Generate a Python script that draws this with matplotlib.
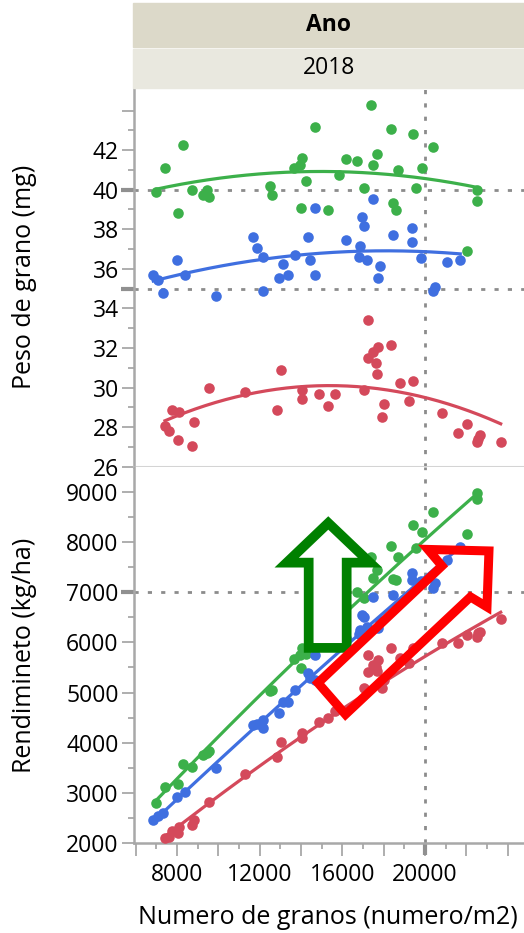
import matplotlib
matplotlib.use('Agg')
import matplotlib.pyplot as plt
import numpy as np
from matplotlib.patches import Polygon, Rectangle

plt.rcParams['font.family'] = ['Open Sans', 'DejaVu Sans']

# grain number (per m2), grain weight (mg) and yield (kg/ha), one entry per plot
green_x = [6984, 7419, 8065, 8274, 8710, 9243, 9437, 9565, 12500, 12611, 13676, 13950,
           14014, 14033, 14241, 14677, 15306, 15854, 16191, 16724, 17062, 17371, 17497,
           17690, 18368, 18465, 18578, 18675, 19415, 19546, 19868, 20400, 22046, 22500, 22500]
green_w = [39.88, 41.12, 38.84, 42.25, 39.97, 39.75, 39.97, 39.63, 40.19, 39.75, 41.12, 41.24,
           39.09, 41.58, 40.44, 43.18, 38.99, 40.75, 41.54, 41.46, 40.09, 44.30, 41.24,
           41.80, 43.05, 39.33, 38.95, 41.02, 42.83, 40.09, 41.12, 42.14, 36.92, 39.97, 39.41]
green_y = [2811, 3130, 3183, 3575, 3527, 3760, 3790, 3846, 5030, 5054, 5671, 5750,
           5486, 5884, 5760, 6330, 5970, 6460, 6730, 6998, 6878, 7707, 7277,
           7442, 7919, 7263, 7240, 7695, 8337, 7874, 8204, 8590, 8152, 8980, 8849]

blue_x = [6854, 7095, 7308, 7984, 8387, 9887, 11662, 11856, 12175, 12175, 12935, 13143,
          13385, 13709, 14353, 14450, 14677, 14677, 16191, 16805, 16854, 16935, 17062,
          17178, 17497, 17710, 17807, 18465, 19355, 19355, 19790, 20400, 20482, 21048, 21706]
blue_w = [35.71, 35.44, 34.76, 36.47, 35.67, 34.64, 37.60, 37.03, 36.58, 34.86, 35.54, 36.25,
          35.69, 36.70, 37.60, 36.45, 35.69, 39.07, 37.48, 36.62, 37.16, 38.62, 38.16,
          36.45, 39.51, 35.54, 36.13, 37.72, 38.06, 37.38, 36.55, 34.89, 35.06, 36.35, 36.45]
blue_y = [2467, 2553, 2612, 2931, 3030, 3496, 4357, 4377, 4457, 4291, 4602, 4821,
          4821, 5054, 5400, 5300, 5250, 5750, 6080, 6160, 6248, 6546, 6513,
          6313, 6911, 6282, 6430, 6944, 7375, 7243, 7230, 7078, 7177, 7640, 7906]

red_x = [7419, 7613, 7742, 8065, 8097, 8710, 8823, 9565, 11304, 12823, 13046, 14033,
         14033, 14885, 15306, 15644, 17062, 17255, 17255, 17468, 17613, 17690, 17710,
         17933, 18014, 18353, 18788, 19224, 19432, 20836, 21610, 22046, 22500, 22580, 22660, 23662]
red_w = [28.04, 27.79, 28.85, 27.37, 28.77, 27.04, 28.28, 29.99, 29.77, 28.85, 30.90, 29.87,
         29.40, 29.65, 29.09, 29.65, 29.87, 33.41, 31.48, 31.81, 31.26, 30.67, 32.07,
         28.51, 29.19, 32.15, 30.21, 29.31, 30.32, 28.72, 27.70, 28.16, 27.24, 27.41, 27.58, 27.24]
red_y = [2100, 2122, 2254, 2214, 2334, 2361, 2467, 2831, 3376, 3727, 4025, 4190,
         4093, 4423, 4490, 4640, 5088, 5750, 5418, 5551, 5500, 5430, 5651,
         5088, 5260, 5884, 5684, 5585, 5884, 5983, 5983, 6149, 6115, 6180, 6214, 6461]

# fitted curves (x, value)
green_fit_w = ([6984, 11048, 14275, 15886, 17497, 19916, 22500],
               [40.09, 40.57, 40.87, 40.95, 40.94, 40.60, 40.06])
blue_fit_w = ([6854, 8387, 11048, 13709, 16530, 18321, 21706],
              [35.45, 35.72, 36.24, 36.69, 36.95, 36.91, 36.73])
red_fit_w = ([7419, 9921, 13951, 15886, 17178, 19597, 23662],
             [28.33, 29.23, 30.04, 30.16, 30.07, 29.45, 28.21])
green_fit_y = ([6984, 14435, 22500], [2851, 5916, 8954])
blue_fit_y = ([6854, 15402, 21706], [2433, 5651, 7899])
red_fit_y = ([7419, 15402, 23662], [2130, 4510, 6600])

series = [
    (green_x, green_w, green_y, green_fit_w, green_fit_y, '#3cb04a'),
    (blue_x, blue_w, blue_y, blue_fit_w, blue_fit_y, '#3f6fe0'),
    (red_x, red_w, red_y, red_fit_w, red_fit_y, '#d4495b'),
]

# annotation arrows drawn on the yield panel (data coords)
green_arrow = [(15320, 8377), (13307, 7587), (14372, 7587), (14372, 5890),
               (16210, 5890), (16210, 7587), (17337, 7587)]
red_arrow = [(20143, 7850), (23095, 7820), (22998, 6706), (22200, 6905),
             (16152, 4566), (14822, 5193), (20821, 7521)]

W, H = 524, 933
fig = plt.figure(figsize=(W / 100, H / 100), dpi=100)
L = 134 / W
ax1 = fig.add_axes([L, 1 - 466.7 / H, 1 - L, (466.7 - 88) / H])
ax2 = fig.add_axes([L, 1 - 843.3 / H, 1 - L, (843.3 - 466.7) / H])

# header strips
fig.patches.append(Rectangle((133 / W, 1 - 47 / H), 1 - 133 / W, 44 / H,
                             transform=fig.transFigure, color='#dcd9c9', zorder=0))
fig.patches.append(Rectangle((133 / W, 1 - 87.5 / H), 1 - 133 / W, 38.5 / H,
                             transform=fig.transFigure, color='#e9e8df', zorder=0))
fig.text(328.5 / W, 1 - 25 / H, 'Ano', ha='center', va='center', fontsize=16.5, fontweight='bold')
fig.text(328.5 / W, 1 - 68 / H, '2018', ha='center', va='center', fontsize=16.5)

axcol = '#a8a8a8'
refcol = '#8c8c8c'
dots = (0, (1.5, 3.3))


def quad(fx, fv):
    xs = np.linspace(min(fx), max(fx), 200)
    return xs, np.polyval(np.polyfit(fx, fv, 2), xs)


for x, w, y, fw, fy, c in series:
    ax1.scatter(x, w, s=58, color=c, linewidths=0, zorder=3)
    ax1.plot(*quad(*fw), color=c, lw=2.3, zorder=4)
    ax2.scatter(x, y, s=58, color=c, linewidths=0, zorder=3)
    ax2.plot(*quad(*fy), color=c, lw=2.3, zorder=4)

for ax in (ax1, ax2):
    ax.set_xlim(5920, 24790)
    ax.axvline(20000, color=refcol, lw=2.0, ls=dots, zorder=2)
    for s in ('top', 'right'):
        ax.spines[s].set_visible(False)
    ax.spines['left'].set_color(axcol)
    ax.spines['left'].set_linewidth(1.8)
    ax.tick_params(axis='both', which='both', color=axcol, width=1.3, labelsize=16.5, pad=2)
    ax.tick_params(which='major', length=9)
    ax.tick_params(which='minor', length=4.5)

ax1.axhline(40, color=refcol, lw=2.0, ls=dots, zorder=2)
ax1.axhline(35, color=refcol, lw=2.0, ls=dots, zorder=2)
ax2.axhline(7000, color=refcol, lw=2.0, ls=dots, zorder=2)

ax1.set_ylim(26, 45.14)
ax1.set_yticks(np.arange(26, 45, 2))
ax1.set_yticklabels([str(v) for v in range(26, 43, 2)] + [''])
ax1.set_yticks(np.arange(27, 45, 2), minor=True)
ax1.set_xticks([])
ax1.spines['bottom'].set_color('#d4d4d4')
ax1.spines['bottom'].set_linewidth(1.5)

ax2.set_ylim(2000, 9497)
ax2.set_yticks(np.arange(2000, 9001, 1000))
ax2.set_yticks(np.arange(2500, 9500, 1000), minor=True)
ax2.set_xticks(np.arange(6000, 24001, 2000))
ax2.set_xticklabels([str(v) if v % 4000 == 0 and v < 24000 else '' for v in range(6000, 24001, 2000)])
ax2.set_xticks(np.arange(7000, 24001, 2000), minor=True)
ax2.spines['bottom'].set_color(axcol)
ax2.spines['bottom'].set_linewidth(1.8)
ax2.tick_params(axis='x', pad=5)

# reference line marks on the axes
for ax, v in ((ax1, 40), (ax1, 35), (ax2, 7000)):
    ax.plot([-0.033, 0], [v, v], transform=ax.get_yaxis_transform(), color='#909090',
            lw=3, clip_on=False, solid_capstyle='butt')
ax2.plot([20000, 20000], [-0.032, 0], transform=ax2.get_xaxis_transform(), color='#909090',
         lw=3, clip_on=False, solid_capstyle='butt')

ax2.add_patch(Polygon(green_arrow, closed=True, facecolor='white', edgecolor='#008000',
                      lw=7, joinstyle='miter', zorder=6))
ax2.add_patch(Polygon(red_arrow, closed=True, fill=False, edgecolor='#ff0000',
                      lw=6.5, joinstyle='miter', zorder=6))

fig.text(25 / W, 1 - 277 / H, 'Peso de grano (mg)', rotation=90, ha='center', va='center', fontsize=18)
fig.text(25 / W, 1 - 655 / H, 'Rendimineto (kg/ha)', rotation=90, ha='center', va='center', fontsize=18)
fig.text(328 / W, 1 - 917 / H, 'Numero de granos (numero/m2)', ha='center', va='center', fontsize=18)

fig.savefig('out.png', dpi=100)
